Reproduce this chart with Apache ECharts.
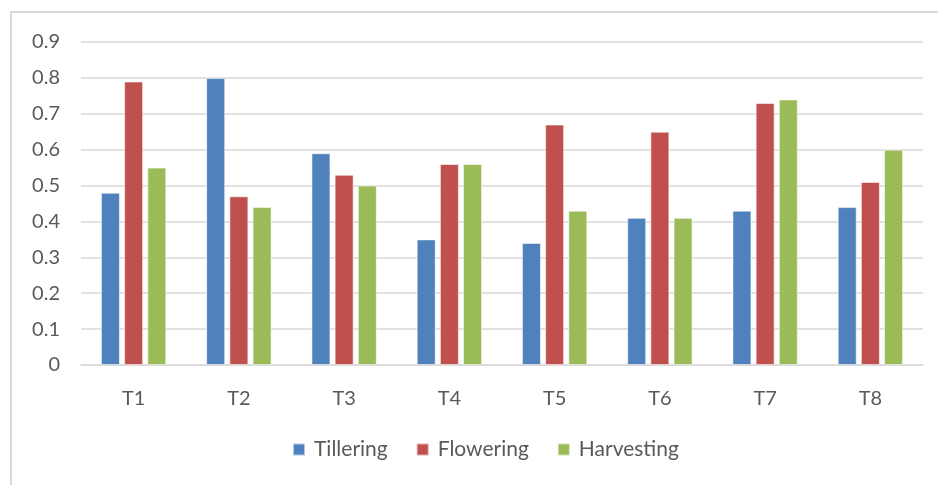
<!DOCTYPE html>
<html>
<head>
<meta charset="utf-8">
<script src="https://cdn.jsdelivr.net/npm/echarts@6/dist/echarts.min.js"></script>
<style>
  html, body { margin: 0; padding: 0; background: #ffffff; }
  #chart { width: 938px; height: 485px; }
</style>
</head>
<body>
<div id="chart"></div>
<script>
// Treatments along the x axis
const categories = ['T1', 'T2', 'T3', 'T4', 'T5', 'T6', 'T7', 'T8'];

// Values per growth stage
const tillering  = [0.48, 0.80, 0.59, 0.35, 0.34, 0.41, 0.43, 0.44];
const flowering  = [0.79, 0.47, 0.53, 0.56, 0.67, 0.65, 0.73, 0.51];
const harvesting = [0.55, 0.44, 0.50, 0.56, 0.43, 0.41, 0.74, 0.60];

// Y axis tick settings
const yMin = 0;
const yMax = 0.9;
const yStep = 0.1;

const fontFamily = 'Lato, "Open Sans", sans-serif';
const textColor = '#595959';

function barSeries(name, data, color) {
  return {
    name: name,
    type: 'bar',
    data: data,
    barWidth: 19,
    barGap: '22%',
    itemStyle: { color: color, borderColor: 'rgba(255,255,255,0.55)', borderWidth: 1 }
  };
}

const chart = echarts.init(document.getElementById('chart'), null, { renderer: 'canvas' });
chart.setOption({
  backgroundColor: '#ffffff',
  animation: false,
  textStyle: { fontFamily: fontFamily },
  graphic: [{
    type: 'rect',
    shape: { x: 11, y: 12, width: 940, height: 490 },
    style: { fill: 'none', stroke: '#d9d9d9', lineWidth: 2 },
    silent: true
  }],
  grid: { left: 81, right: 15, top: 42, bottom: 120, containLabel: false },
  legend: {
    bottom: 20,
    left: 287,
    itemWidth: 12,
    itemHeight: 12,
    itemGap: 28,
    icon: 'rect',
    textStyle: { fontSize: 21, color: textColor, fontFamily: fontFamily, padding: [0, 0, 0, 4] },
    data: ['Tillering', 'Flowering', 'Harvesting']
  },
  xAxis: {
    type: 'category',
    data: categories,
    axisLine: { show: true, lineStyle: { color: '#d9d9d9', width: 1.5 } },
    axisTick: { show: false },
    axisLabel: { color: textColor, fontSize: 20, margin: 24, fontFamily: fontFamily }
  },
  yAxis: {
    type: 'value',
    min: yMin,
    max: yMax,
    interval: yStep,
    axisLine: { show: false },
    axisTick: { show: false },
    splitLine: { lineStyle: { color: '#d9d9d9', width: 1.5 } },
    axisLabel: {
      color: textColor, fontSize: 20, margin: 21, fontFamily: fontFamily,
      formatter: function (v) { return v === 0 ? '0' : String(Math.round(v * 10) / 10); }
    }
  },
  series: [
    barSeries('Tillering', tillering, '#4F81BD'),
    barSeries('Flowering', flowering, '#C0504D'),
    barSeries('Harvesting', harvesting, '#9BBB59')
  ]
});
</script>
</body>
</html>
